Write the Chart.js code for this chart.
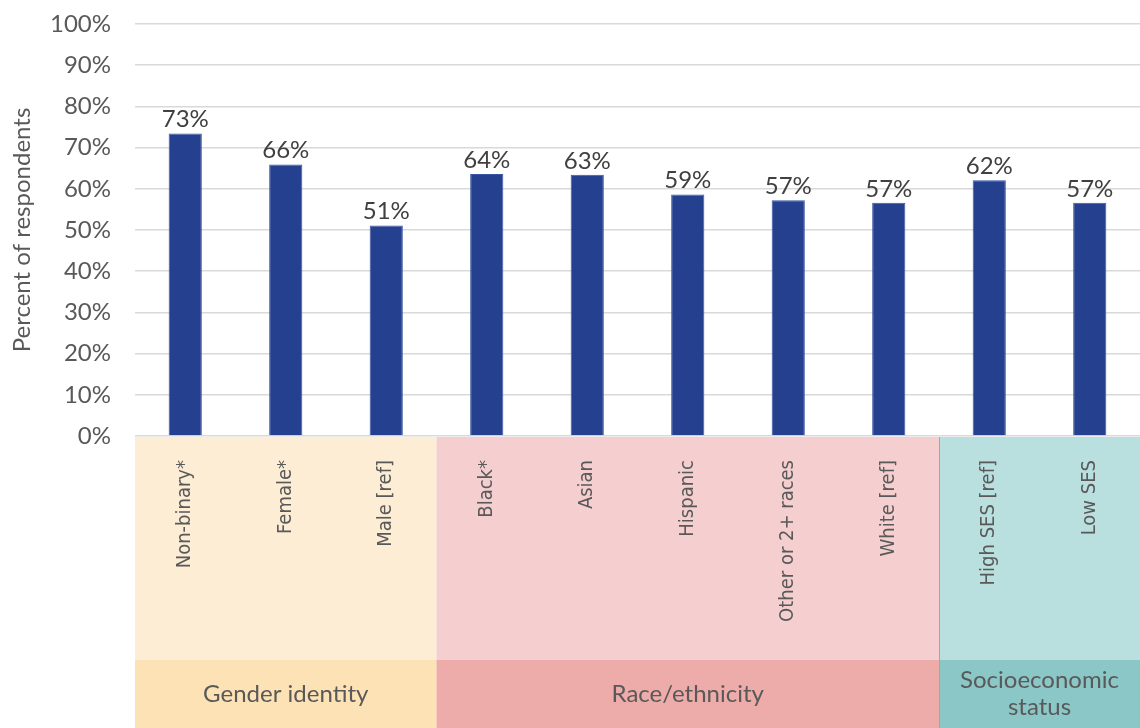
<!DOCTYPE html>
<html>
<head>
<title>Percent of respondents by group</title>
<script src="https://cdn.jsdelivr.net/npm/chart.js"></script>
<style>
    html, body { margin: 0; padding: 0; background: #fff; }
    #wrap { width: 1140px; height: 728px; position: relative; }
</style>
</head>
<body>
<div id="wrap"><canvas id="chart"></canvas></div>
<script>
    // data
    const categories = ['Non-binary*', 'Female*', 'Male [ref]', 'Black*', 'Asian', 'Hispanic',
        'Other or 2+ races', 'White [ref]', 'High SES [ref]', 'Low SES'];
    const values = [73.4, 65.9, 51.1, 63.6, 63.4, 58.6, 57.2, 56.6, 62.1, 56.6];
    const groups = ['Gender identity', 'Race/ethnicity', ['Socioeconomic', 'status']];
    const groupSizes = [3, 5, 2];

    // styles
    const bandLight = ['#fdedd5', '#f5cfcf', '#b9e0df'];
    const bandDark = ['#fde2b5', '#edabaa', '#8ac7c6'];
    const textGrey = '#595959';
    const numFont = 'Lato, "Open Sans", sans-serif';
    const narrowFont = '"Liberation Sans Narrow", "DejaVu Sans Condensed", sans-serif';
    const groupBandTop = 660;

    const bands = {
        id: 'bands',
        beforeDraw(chart) {
            const ctx = chart.ctx;
            const area = chart.chartArea;
            const x = chart.scales.x;
            const w = (area.right - area.left) / categories.length;
            let idx = 0;
            ctx.save();
            groups.forEach((g, i) => {
                const x0 = x.getPixelForValue(idx) - w / 2;
                const x1 = x.getPixelForValue(idx + groupSizes[i] - 1) + w / 2;
                ctx.fillStyle = bandLight[i];
                ctx.fillRect(x0, area.bottom + 1, x1 - x0, groupBandTop - area.bottom - 1);
                ctx.fillStyle = bandDark[i];
                ctx.fillRect(x0, groupBandTop, x1 - x0, chart.height - groupBandTop);
                ctx.fillStyle = textGrey;
                ctx.font = '24px ' + numFont;
                ctx.textAlign = 'center';
                ctx.textBaseline = 'middle';
                const lines = Array.isArray(g) ? g : [g];
                const mid = (groupBandTop + chart.height) / 2;
                const cx = (x0 + Math.min(x1, chart.width)) / 2;
                lines.forEach((l, k) => {
                    ctx.fillText(l, cx, mid + (k - (lines.length - 1) / 2) * 27);
                });
                if (i === 2) {
                    ctx.strokeStyle = '#a6a6a6';
                    ctx.lineWidth = 1;
                    ctx.beginPath();
                    ctx.moveTo(Math.round(x0) + 0.5, area.bottom + 1);
                    ctx.lineTo(Math.round(x0) + 0.5, chart.height);
                    ctx.stroke();
                }
                idx += groupSizes[i];
            });
            ctx.restore();
        }
    };

    const barLabels = {
        id: 'barLabels',
        afterDatasetsDraw(chart) {
            const ctx = chart.ctx;
            const meta = chart.getDatasetMeta(0);
            ctx.save();
            ctx.fillStyle = '#404040';
            ctx.font = '24px ' + numFont;
            ctx.textAlign = 'center';
            ctx.textBaseline = 'bottom';
            meta.data.forEach((bar, i) => {
                ctx.fillText(Math.round(values[i]) + '%', bar.x, bar.y - 2);
            });
            ctx.restore();
        }
    };

    new Chart(document.getElementById('chart'), {
        type: 'bar',
        data: {
            labels: categories,
            datasets: [{
                data: values,
                backgroundColor: '#25408f',
                borderColor: '#3a55a3',
                borderWidth: 1,
                categoryPercentage: 1,
                barPercentage: 0.33
            }]
        },
        options: {
            responsive: true,
            maintainAspectRatio: false,
            animation: false,
            layout: { padding: { top: 24, bottom: 728 - groupBandTop, right: 0, left: 8 } },
            plugins: { legend: { display: false }, tooltip: { enabled: false } },
            scales: {
                x: {
                    grid: { display: false },
                    border: { display: false },
                    ticks: {
                        color: textGrey,
                        font: { family: narrowFont, size: 20 },
                        minRotation: 90,
                        maxRotation: 90,
                        padding: 16,
                        autoSkip: false
                    },
                    afterFit(scale) {
                        scale.height = 224;
                        scale.paddingLeft = 0;
                        scale.paddingRight = 0;
                    }
                },
                y: {
                    min: 0,
                    max: 100,
                    ticks: {
                        stepSize: 10,
                        color: textGrey,
                        font: { family: numFont, size: 24 },
                        padding: 24,
                        callback: v => v + '%'
                    },
                    grid: { color: '#d9d9d9', lineWidth: 1.5, drawTicks: false },
                    border: { display: false },
                    title: {
                        display: true,
                        text: 'Percent of respondents',
                        color: textGrey,
                        font: { family: numFont, size: 24 },
                        padding: { top: 0, bottom: 0 }
                    },
                    afterFit(scale) {
                        scale.width = 127;
                        scale.paddingTop = 0;
                        scale.paddingBottom = 0;
                    }
                }
            }
        },
        plugins: [bands, barLabels]
    });
</script>
</body>
</html>
